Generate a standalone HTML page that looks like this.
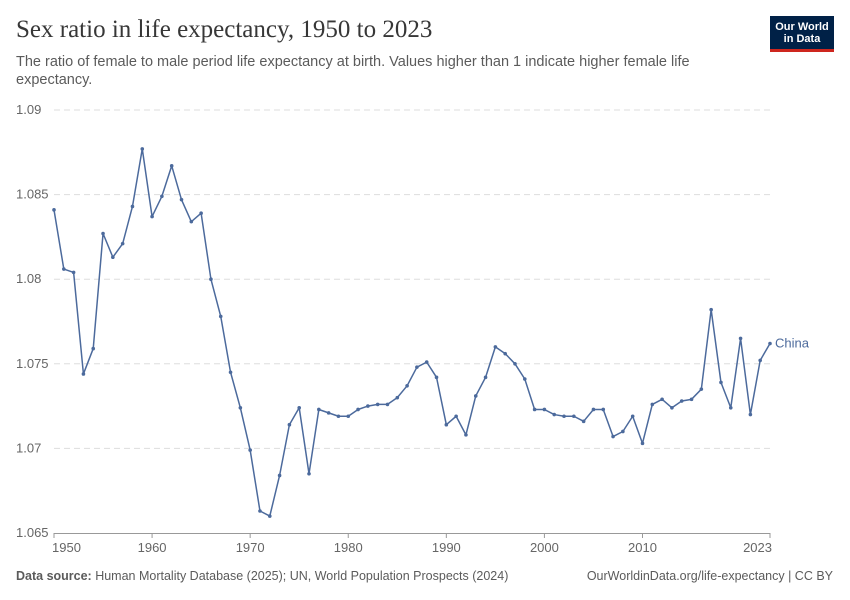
<!DOCTYPE html>
<html><head><meta charset="utf-8"><style>
body{margin:0;background:#fff;font-family:"Liberation Sans",sans-serif;}
#wrap{position:relative;width:850px;height:600px;overflow:hidden;}
.t{position:absolute;white-space:nowrap;}
</style></head><body>
<div id="wrap">
<div class="t" style="left:16px;top:16px;font-family:'Liberation Serif',serif;font-size:25px;color:#373737;">Sex ratio in life expectancy, 1950 to 2023</div>
<div class="t" style="left:16px;top:53px;font-size:14.5px;line-height:18px;color:#5b5b5b;white-space:normal;width:720px;">The ratio of female to male period life expectancy at birth. Values higher than 1 indicate higher female life expectancy.</div>
<div style="position:absolute;left:770px;top:16px;width:64px;height:36px;background:#002147;border-bottom:3px solid #ce261e;box-sizing:border-box;color:#fff;font-size:11px;line-height:12px;text-align:center;padding-top:5px;font-weight:bold;">Our World<br>in Data</div>
<svg id="chart" width="850" height="600" style="position:absolute;left:0;top:0;"></svg>
<div class="t" style="left:16px;top:569px;font-size:12.5px;color:#5b5b5b;"><b>Data source:</b> Human Mortality Database (2025); UN, World Population Prospects (2024)</div>
<div class="t" style="right:17px;top:569px;font-size:12.5px;color:#5b5b5b;">OurWorldinData.org/life-expectancy | CC BY</div>
</div>
<script>
const years=[];for(let y=1950;y<=2023;y++)years.push(y);
const values=[1.0841,1.0806,1.0804,1.0744,1.0759,1.0827,1.0813,1.0821,1.0843,1.0877,1.0837,1.0849,1.0867,1.0847,1.0834,1.0839,1.0800,1.0778,1.0745,1.0724,1.0699,1.0663,1.0660,1.0684,1.0714,1.0724,1.0685,1.0723,1.0721,1.0719,1.0719,1.0723,1.0725,1.0726,1.0726,1.0730,1.0737,1.0748,1.0751,1.0742,1.0714,1.0719,1.0708,1.0731,1.0742,1.0760,1.0756,1.0750,1.0741,1.0723,1.0723,1.0720,1.0719,1.0719,1.0716,1.0723,1.0723,1.0707,1.0710,1.0719,1.0703,1.0726,1.0729,1.0724,1.0728,1.0729,1.0735,1.0782,1.0739,1.0724,1.0765,1.0720,1.0752,1.0762];
const yTicks=[1.065,1.07,1.075,1.08,1.085,1.09];
const yTickLabels=["1.065","1.07","1.075","1.08","1.085","1.09"];
const xTicks=[1950,1960,1970,1980,1990,2000,2010,2023];
const seriesName="China";
const NS="http://www.w3.org/2000/svg";
const svg=document.getElementById('chart');
const X0=54,X1=770,Y0=533,Y1=110;
const xs=v=>X0+(v-1950)/(2023-1950)*(X1-X0);
const ys=v=>Y0-(v-1.065)/(1.09-1.065)*(Y0-Y1);
function mk(t,a){const e=document.createElementNS(NS,t);for(const k in a)e.setAttribute(k,a[k]);svg.appendChild(e);return e;}
yTicks.forEach((v,i)=>{
 if(i>0){const g=mk('line',{x1:X0,x2:X1,y1:ys(v),y2:ys(v),stroke:'#ddd','stroke-dasharray':'6,4'});
 
 }
 const t=mk('text',{x:16,y:ys(v)+4,'font-size':13,fill:'#666','font-family':'Liberation Sans, sans-serif'});
 t.textContent=yTickLabels[i];
 
 
});
const ax=mk('line',{x1:X0,x2:X1,y1:Y0+0.5,y2:Y0+0.5,stroke:'#999'});


xTicks.forEach((v,i)=>{
 const tk=mk('line',{x1:xs(v),x2:xs(v),y1:Y0,y2:Y0+5,stroke:'#999'});
 
 
 const anchor=i===0?'start':(i===xTicks.length-1?'end':'middle');
 const t=mk('text',{x:xs(v)+(i===0?-2:(i===xTicks.length-1?2:0)),y:Y0+19,'font-size':13,fill:'#666','text-anchor':anchor,'font-family':'Liberation Sans, sans-serif'});
 t.textContent=v;
 
 
});
const pts=years.map((y,i)=>xs(y)+','+ys(values[i])).join(' ');
const pl=mk('polyline',{points:pts,fill:'none',stroke:'#4c6a9c','stroke-width':1.5,'stroke-linejoin':'round'});


years.forEach((y,i)=>{
 const c=mk('circle',{cx:xs(y),cy:ys(values[i]),r:1.8,fill:'#4c6a9c'});
 
 
});
const lb=mk('text',{x:xs(2023)+5,y:ys(values[values.length-1])+4,'font-size':13,fill:'#4c6a9c','font-family':'Liberation Sans, sans-serif'});
lb.textContent=seriesName;


</script>
</body></html>
